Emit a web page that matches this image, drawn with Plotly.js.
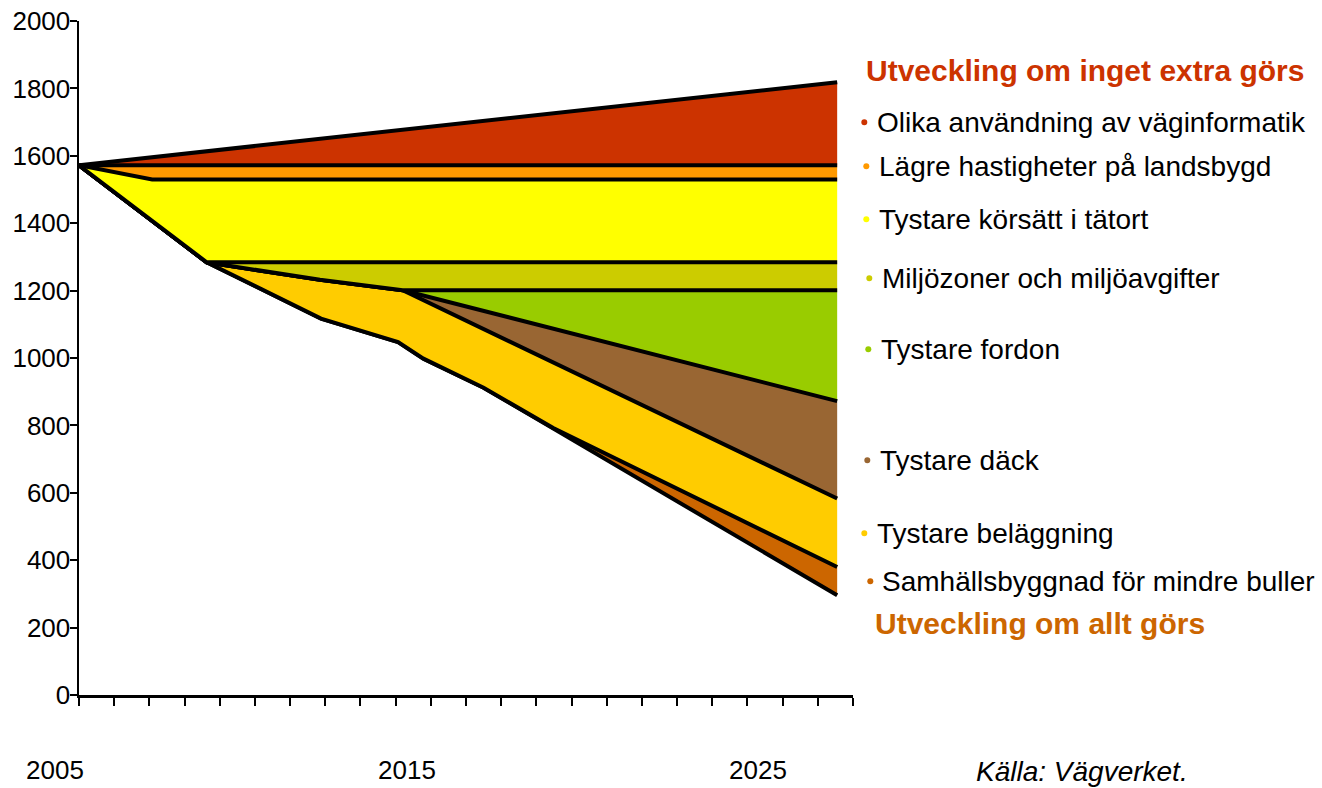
<!DOCTYPE html>
<html>
<head>
<meta charset="utf-8">
<script src="https://cdn.plot.ly/plotly-3.0.1.min.js"></script>
<style>
html,body{margin:0;padding:0;background:#fff;}
#chart{width:1322px;height:788px;}
</style>
</head>
<body>
<div id="chart"></div>
<script>
// ---- data (years, noise-affected people ×1000 approx.) ----
// boundary lines, from top of the stack to bottom
const yearsTop = [2005, 2026.55];
const valsTop = [1572, 1818];                       // Utveckling om inget extra görs

const yearsVaginformatik = [2005, 2026.55];
const valsVaginformatik = [1572, 1572];             // lower edge of "Olika användning av väginformatik"

const yearsHastigheter = [2005, 2007.08, 2026.55];
const valsHastigheter = [1572, 1530, 1530];         // lower edge of "Lägre hastigheter på landsbygd"

const yearsKorsatt = [2005, 2008.63, 2026.55];
const valsKorsatt = [1572, 1284, 1284];             // lower edge of "Tystare körsätt i tätort"

const yearsMiljozoner = [2005, 2008.63, 2011.85, 2014.2, 2026.55];
const valsMiljozoner = [1572, 1284, 1232, 1201, 1201]; // lower edge of "Miljözoner och miljöavgifter"

const yearsFordon = [2005, 2008.63, 2011.85, 2014.2, 2026.55];
const valsFordon = [1572, 1284, 1232, 1201, 872];   // lower edge of "Tystare fordon"

const yearsDack = [2005, 2008.63, 2011.85, 2014.2, 2026.55];
const valsDack = [1572, 1284, 1232, 1201, 583];     // lower edge of "Tystare däck"

const yearsBelaggning = [2005, 2008.63, 2011.88, 2014.07, 2014.79, 2016.5, 2018.48, 2026.55];
const valsBelaggning = [1572, 1284, 1117, 1047, 998, 912, 792, 380]; // lower edge of "Tystare beläggning"

const yearsAllt = [2005, 2008.63, 2011.88, 2014.07, 2014.79, 2016.5, 2026.55];
const valsAllt = [1572, 1284, 1117, 1047, 998, 912, 296]; // Utveckling om allt görs

const seriesNames = [
  "Olika användning av väginformatik",
  "Lägre hastigheter på landsbygd",
  "Tystare körsätt i tätort",
  "Miljözoner och miljöavgifter",
  "Tystare fordon",
  "Tystare däck",
  "Tystare beläggning",
  "Samhällsbyggnad för mindre buller"
];
const seriesColors = ["#CC3300","#FF9900","#FFFF00","#CCCC00","#99CC00","#996633","#FFCC00","#CC6600"];
const yTicks = [0,200,400,600,800,1000,1200,1400,1600,1800,2000];
const xLabelYears = ["2005","2015","2025"];
const titleTop = "Utveckling om inget extra görs";
const titleBottom = "Utveckling om allt görs";
const sourceText = "Källa: Vägverket.";

// ---- layout geometry ----
const W = 1322, H = 788;
const L = 79, R = 852.7, T = 20.7, B = 694.7;
const px = x => (x - L) / (R - L);
const py = y => (B - y) / (B - T);

const lineStyle = {color:"#000", width:4};
// bottom to top
const stack = [
  {x: yearsAllt, y: valsAllt, fill: null},
  {x: yearsBelaggning, y: valsBelaggning, fill: seriesColors[7]},
  {x: yearsDack, y: valsDack, fill: seriesColors[6]},
  {x: yearsFordon, y: valsFordon, fill: seriesColors[5]},
  {x: yearsMiljozoner, y: valsMiljozoner, fill: seriesColors[4]},
  {x: yearsKorsatt, y: valsKorsatt, fill: seriesColors[3]},
  {x: yearsHastigheter, y: valsHastigheter, fill: seriesColors[2]},
  {x: yearsVaginformatik, y: valsVaginformatik, fill: seriesColors[1]},
  {x: yearsTop, y: valsTop, fill: seriesColors[0]}
];
const traces = stack.map((s, i) => ({
  type: "scatter", mode: "lines", x: s.x, y: s.y,
  line: lineStyle,
  fill: i === 0 ? "none" : "tonexty",
  fillcolor: s.fill || undefined,
  hoverinfo: "skip", showlegend: false
}));

const font = "Liberation Sans, Arial, Helvetica, sans-serif";
const annotations = [];
const shapes = [];

// x labels (centres in pixels)
[55, 407, 758].forEach((xc, i) => {
  annotations.push({xref:"paper", yref:"paper", x:px(xc), y:py(770), text:xLabelYears[i],
    showarrow:false, xanchor:"center", yanchor:"middle", font:{family:font, size:26, color:"#000"}});
});

// legend items: [bullet x, text x, center y]
const legendPos = [
  [864, 877, 122],
  [866, 879, 166],
  [866, 879, 219],
  [869, 882, 278],
  [868, 881, 349],
  [867, 880, 460],
  [864, 877, 533],
  [870, 882, 581]
];
seriesNames.forEach((nm, i) => {
  const p = legendPos[i];
  shapes.push({type:"circle", xref:"paper", yref:"paper", xsizemode:"pixel", ysizemode:"pixel",
    xanchor:px(p[0]), yanchor:py(p[2]), x0:-3, x1:3, y0:-3, y1:3,
    fillcolor:seriesColors[i], line:{width:0}});
  annotations.push({xref:"paper", yref:"paper", x:px(p[1] - 2), y:py(p[2]), text:nm, showarrow:false,
    xanchor:"left", yanchor:"middle", font:{family:font, size:28, color:"#000"}});
});
annotations.push({xref:"paper", yref:"paper", x:px(864), y:py(70), text:"<b>"+titleTop+"</b>", showarrow:false,
  xanchor:"left", yanchor:"middle", font:{family:font, size:30, color:"#CC3300"}});
annotations.push({xref:"paper", yref:"paper", x:px(873), y:py(623), text:"<b>"+titleBottom+"</b>", showarrow:false,
  xanchor:"left", yanchor:"middle", font:{family:font, size:30, color:"#CC6600"}});
annotations.push({xref:"paper", yref:"paper", x:px(974), y:py(771), text:"<i>"+sourceText+"</i>", showarrow:false,
  xanchor:"left", yanchor:"middle", font:{family:font, size:28, color:"#000"}});

const layout = {
  width: W, height: H,
  margin: {l: L, r: W - R, t: T, b: H - B, pad: 0},
  paper_bgcolor: "#fff", plot_bgcolor: "#fff",
  showlegend: false,
  xaxis: {range:[2005, 2027], tick0:2005, dtick:1, ticks:"outside", ticklen:8, tickwidth:2,
    tickcolor:"#000", showticklabels:false, showgrid:false, zeroline:false,
    showline:true, linecolor:"#000", linewidth:2.5, fixedrange:true},
  yaxis: {range:[0, 2000], tickvals:yTicks, ticks:"outside", ticklen:7, tickwidth:2,
    tickcolor:"#000", showgrid:false, zeroline:false, showline:true, linecolor:"#000", linewidth:2.5,
    ticklabelstandoff:-6,
    tickfont:{family:font, size:26, color:"#000"}, fixedrange:true},
  annotations: annotations,
  shapes: shapes
};

Plotly.newPlot("chart", traces, layout, {displayModeBar:false, staticPlot:true});
</script>
</body>
</html>
